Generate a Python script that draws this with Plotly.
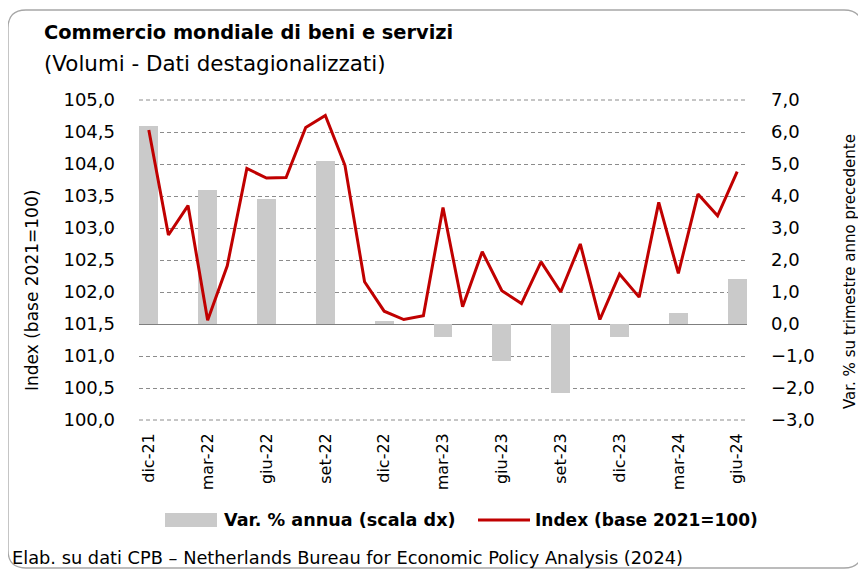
import plotly.graph_objects as go

# ---------------- data ----------------
months = ["dic-21", "gen-22", "feb-22", "mar-22", "apr-22", "mag-22", "giu-22", "lug-22",
          "ago-22", "set-22", "ott-22", "nov-22", "dic-22", "gen-23", "feb-23", "mar-23",
          "apr-23", "mag-23", "giu-23", "lug-23", "ago-23", "set-23", "ott-23", "nov-23",
          "dic-23", "gen-24", "feb-24", "mar-24", "apr-24", "mag-24", "giu-24"]
index_values = [104.53, 102.89, 103.35, 101.56, 102.41, 103.93, 103.78, 103.79,
                104.57, 104.76, 103.98, 102.16, 101.70, 101.57, 101.63, 103.32,
                101.77, 102.63, 102.02, 101.82, 102.47, 102.00, 102.75, 101.57,
                102.28, 101.92, 103.40, 102.29, 103.53, 103.19, 103.88]
quarters = ["dic-21", "mar-22", "giu-22", "set-22", "dic-22", "mar-23",
            "giu-23", "set-23", "dic-23", "mar-24", "giu-24"]
annual_var = [6.2, 4.2, 3.9, 5.1, 0.1, -0.4, -1.15, -2.15, -0.4, 0.35, 1.4]

# ---------------- layout helpers ----------------
OFF = 8                      # page body margin
W_PX, H_PX = 866 - OFF, 570 - OFF
L, R, T, B = 139 - OFF, 747 - OFF, 100 - OFF, 420 - OFF
FONT = "DejaVu Sans"
RED = "#C00000"
GREY_BAR = "#CACACA"
GRID = "#8C8C8C"
GRID_DASH = "4px,3px"


def px(x):          # reference-screen x -> paper
    return (x - OFF - L) / (R - L)


def py(y):          # reference-screen y -> paper
    return (B - (y - OFF)) / (B - T)


fig = go.Figure()
fig.add_trace(go.Bar(x=quarters, y=annual_var, yaxis="y", marker_color=GREY_BAR,
                     marker_line_width=0, width=0.96, name="Var. % annua (scala dx)",
                     showlegend=False))
fig.add_trace(go.Scatter(x=months, y=index_values, yaxis="y2", mode="lines",
                         line=dict(color=RED, width=3), name="Index (base 2021=100)",
                         showlegend=False))

# rounded frame
x0, y0, x1, y1, r = 8, 10, 862, 568, 18
pts = [
    ("M", [(x0 + r, y0)]), ("L", [(x1 - r, y0)]), ("Q", [(x1, y0), (x1, y0 + r)]),
    ("L", [(x1, y1 - r)]), ("Q", [(x1, y1), (x1 - r, y1)]), ("L", [(x0 + r, y1)]),
    ("Q", [(x0, y1), (x0, y1 - r)]), ("L", [(x0, y0 + r)]), ("Q", [(x0, y0), (x0 + r, y0)]),
]
path = " ".join(c + " " + " ".join(f"{px(a):.5f},{py(b):.5f}" for a, b in p) for c, p in pts) + " Z"

shapes = [
    dict(type="path", path=path, xref="paper", yref="paper",
         line=dict(color="#A6A6A6", width=1.3), layer="below"),
    # grid lines at the two ends of the value range (Plotly clips those)
    dict(type="line", xref="paper", yref="paper", x0=0, x1=1, y0=1, y1=1, layer="below",
         line=dict(color=GRID, width=1, dash=GRID_DASH)),
    dict(type="line", xref="paper", yref="paper", x0=0, x1=1, y0=0, y1=0, layer="below",
         line=dict(color=GRID, width=1, dash=GRID_DASH)),
    # legend swatches
    dict(type="rect", xref="paper", yref="paper", x0=px(165), x1=px(217), y0=py(527), y1=py(513),
         fillcolor=GREY_BAR, line=dict(width=0)),
    dict(type="line", xref="paper", yref="paper", x0=px(478), x1=px(530), y0=py(520), y1=py(520),
         line=dict(color=RED, width=3)),
]

annotations = [
    dict(text="<b>Commercio mondiale di beni e servizi</b>", x=px(42), y=py(33),
         font=dict(size=19.4, family=FONT, color="#000")),
    dict(text="(Volumi - Dati destagionalizzati)", x=px(42), y=py(64),
         font=dict(size=21.4, family=FONT, color="#000")),
    dict(text="Index (base 2021=100)", x=px(32), y=py(291), textangle=-90, xanchor="center",
         font=dict(size=17, family=FONT, color="#000")),
    dict(text="Var. % su trimestre anno precedente", x=px(850), y=py(272), textangle=-90,
         xanchor="center", font=dict(size=15, family=FONT, color="#000")),
    dict(text="<b>Var. % annua (scala dx)</b>", x=px(222), y=py(520),
         font=dict(size=17.6, family=FONT, color="#000")),
    dict(text="<b>Index (base 2021=100)</b>", x=px(533), y=py(520),
         font=dict(size=17, family=FONT, color="#000")),
    dict(text="Elab. su dati CPB \u2013 Netherlands Bureau for Economic Policy Analysis (2024)",
         x=px(10), y=py(557), font=dict(size=17.8, family=FONT, color="#000")),
]
for a in annotations:
    a.setdefault("xanchor", "left")
    a.update(xref="paper", yref="paper", yanchor="middle", showarrow=False)

fig.update_layout(
    width=W_PX, height=H_PX,
    margin=dict(l=L, r=W_PX - R, t=T, b=H_PX - B, pad=0),
    paper_bgcolor="white", plot_bgcolor="white",
    separators=",.",
    font=dict(family=FONT, size=18, color="#000"),
    xaxis=dict(type="category", categoryorder="array", categoryarray=months,
               range=[-0.5, len(months) - 0.5],
               tickmode="array", tickvals=quarters, ticktext=quarters, tickangle=-90,
               showgrid=False, showline=False, zeroline=False, ticks="",
               tickfont=dict(size=16, family=FONT, color="#000"), ticklabelstandoff=9),
    # right axis: annual % change (bars)
    yaxis=dict(range=[-3, 7], dtick=1, tick0=-3, tickformat=".1f", side="right",
               showgrid=True, gridcolor=GRID, gridwidth=1, griddash=GRID_DASH,
               zeroline=True, zerolinecolor="#7F7F7F", zerolinewidth=1.3,
               showline=False, ticks="",
               tickfont=dict(size=18, family=FONT, color="#000"), ticklabelstandoff=23),
    # left axis: index
    yaxis2=dict(range=[100, 105], dtick=0.5, tick0=100, tickformat=".1f", overlaying="y",
                side="left", showgrid=False, zeroline=False, showline=False, ticks="",
                tickfont=dict(size=18, family=FONT, color="#000"), ticklabelstandoff=23),
    shapes=shapes, annotations=annotations,
    bargap=0, showlegend=False,
)

fig.write_html("out.html")
